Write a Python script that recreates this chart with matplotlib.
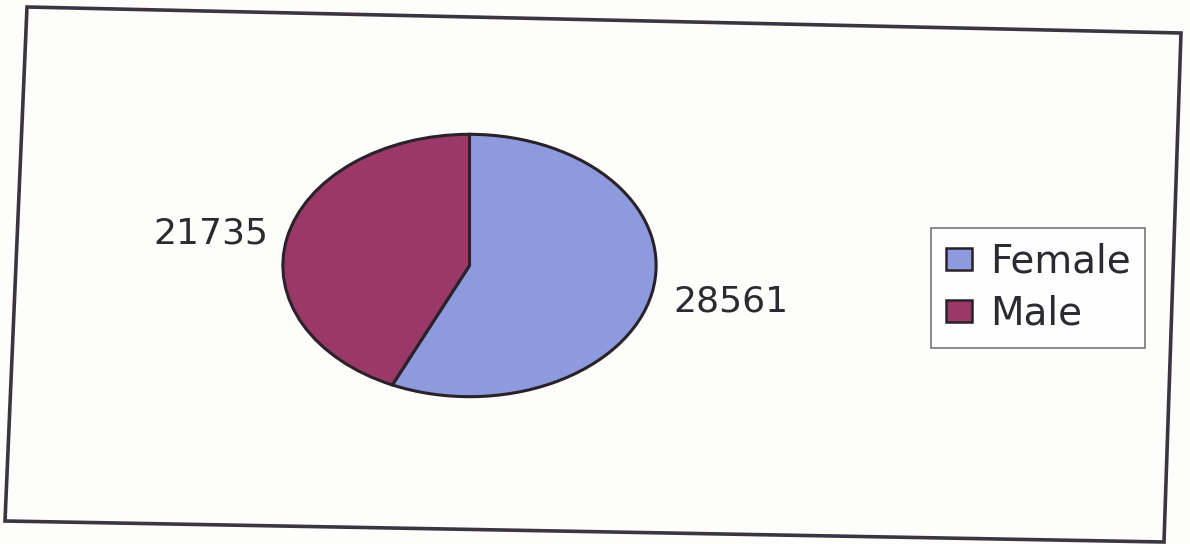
import matplotlib
matplotlib.use("Agg")
import matplotlib.pyplot as plt
from matplotlib.patches import Polygon, Patch

categories = ["Female", "Male"]
values = [28561, 21735]
colors = ["#8e9ade", "#9a3868"]

plt.rcParams['font.family'] = ['DejaVu Sans']

fig = plt.figure(figsize=(11.9, 5.44), dpi=100)
fig.patch.set_facecolor("#fdfdfb")
W, H = 1190, 544

# tilted outer frame (scanned page)
corners = [(27, 7), (1181, 33), (1164, 542), (5, 521)]
frame = Polygon([(x / W, 1 - y / H) for x, y in corners], closed=True,
                fill=False, edgecolor="#3a3540", linewidth=2.6,
                transform=fig.transFigure)
fig.patches.append(frame)

ax = fig.add_axes([281 / W, 1 - 398 / H, 377 / W, 265 / H])
wedges, _ = ax.pie(values, colors=colors, startangle=90, counterclock=False,
                   wedgeprops=dict(edgecolor="#2a2228", linewidth=2.2))
ax.set_aspect('auto')
ax.set_xlim(-1.01, 1.01)
ax.set_ylim(-1.01, 1.01)
ax.axis('off')

# value labels
fig.text(211 / W, 1 - 234 / H, f"{values[1]}", fontsize=26, color="#2a2a30",
         ha="center", va="center")
fig.text(731 / W, 1 - 302 / H, f"{values[0]}", fontsize=26, color="#2a2a30",
         ha="center", va="center")

handles = [Patch(facecolor=c, edgecolor="#2a2228", linewidth=1.8) for c in colors]
leg = fig.legend(handles, categories, loc="upper left",
                 bbox_to_anchor=(931 / W, 1 - 228 / H), fontsize=28,
                 frameon=True, fancybox=False, edgecolor="#555",
                 handlelength=0.68, handleheight=0.48, handletextpad=0.45,
                 borderpad=0.38, labelspacing=0.36, borderaxespad=0)
leg.get_frame().set_linewidth(1.2)
for t in leg.get_texts():
    t.set_color("#2a2a30")

fig.savefig("out.png", dpi=100, facecolor=fig.get_facecolor())
